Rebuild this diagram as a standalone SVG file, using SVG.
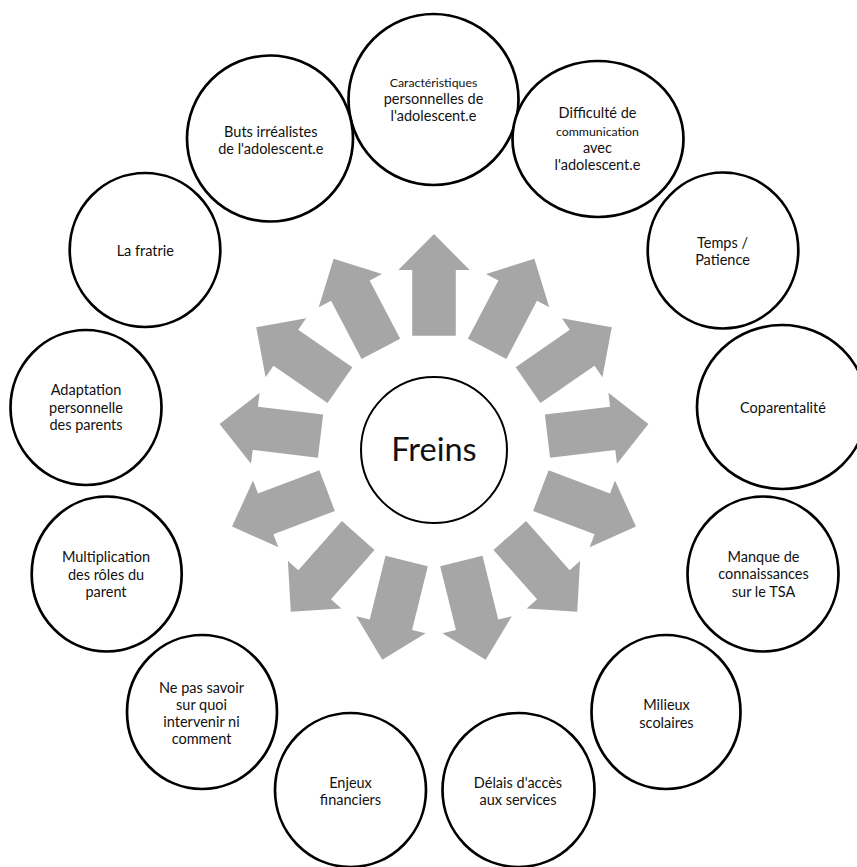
<svg xmlns="http://www.w3.org/2000/svg" xmlns:xlink="http://www.w3.org/1999/xlink" width="857" height="867" viewBox="0 0 857 867">
<style>
.node{fill:#fff;stroke:#000;stroke-width:2.7}
.center{fill:#fff;stroke:#000;stroke-width:2}
.t{font-family:Lato,"Liberation Sans",sans-serif;font-size:14.5px;fill:#111;text-anchor:middle}
.s{font-size:12.3px}
.big{font-size:32.5px}
.arrow{fill:#A6A6A6}
</style>
<defs>
<path id="arr" d="M -21.8 -114.3 L -21.8 -180 L -35.7 -180 L 0 -216 L 35.7 -180 L 21.8 -180 L 21.8 -114.3 Z"/>
</defs>
<rect width="857" height="867" fill="#fff"/>
<g id="connectors" class="arrow">
<use xlink:href="#arr" href="#arr" transform="translate(434 450) rotate(0)"/>
<use xlink:href="#arr" href="#arr" transform="translate(434 450) rotate(27.692)"/>
<use xlink:href="#arr" href="#arr" transform="translate(434 450) rotate(55.385)"/>
<use xlink:href="#arr" href="#arr" transform="translate(434 450) rotate(83.077)"/>
<use xlink:href="#arr" href="#arr" transform="translate(434 450) rotate(110.769)"/>
<use xlink:href="#arr" href="#arr" transform="translate(434 450) rotate(138.462)"/>
<use xlink:href="#arr" href="#arr" transform="translate(434 450) rotate(166.154)"/>
<use xlink:href="#arr" href="#arr" transform="translate(434 450) rotate(193.846)"/>
<use xlink:href="#arr" href="#arr" transform="translate(434 450) rotate(221.538)"/>
<use xlink:href="#arr" href="#arr" transform="translate(434 450) rotate(249.231)"/>
<use xlink:href="#arr" href="#arr" transform="translate(434 450) rotate(276.923)"/>
<use xlink:href="#arr" href="#arr" transform="translate(434 450) rotate(304.615)"/>
<use xlink:href="#arr" href="#arr" transform="translate(434 450) rotate(332.308)"/>
</g>
<g id="freins">
<circle class="center" cx="434" cy="450" r="73"/>
<text class="t big" x="434" y="461">Freins</text>
</g>
<g id="n-caracteristiques">
<ellipse class="node" cx="433.5" cy="99.5" rx="85" ry="85.5"/>
<text class="t s" x="433.5" y="87">Caractéristiques</text>
<text class="t" x="433.5" y="104">personnelles de</text>
<text class="t" x="433.5" y="121">l'adolescent.e</text>
</g>
<g id="n-difficulte">
<ellipse class="node" cx="598" cy="139" rx="85.5" ry="78"/>
<text class="t" x="597.5" y="118">Difficulté de</text>
<text class="t s" x="597.5" y="135.5">communication</text>
<text class="t" x="597.5" y="152.5">avec</text>
<text class="t" x="597.5" y="170">l'adolescent.e</text>
</g>
<g id="n-temps">
<ellipse class="node" cx="723" cy="250.5" rx="75.3" ry="78"/>
<text class="t" x="722.5" y="247.5">Temps /</text>
<text class="t" x="722.5" y="265">Patience</text>
</g>
<g id="n-coparentalite">
<ellipse class="node" cx="782" cy="407" rx="85" ry="82"/>
<text class="t" x="783" y="413">Coparentalité</text>
</g>
<g id="n-manque">
<ellipse class="node" cx="763" cy="574" rx="75.5" ry="77.5"/>
<text class="t" x="763.5" y="561.5">Manque de</text>
<text class="t" x="763.5" y="579">connaissances</text>
<text class="t" x="763.5" y="596.5">sur le TSA</text>
</g>
<g id="n-milieux">
<ellipse class="node" cx="666" cy="712" rx="74.5" ry="77"/>
<text class="t" x="666.5" y="710">Milieux</text>
<text class="t" x="666.5" y="727.5">scolaires</text>
</g>
<g id="n-delais">
<ellipse class="node" cx="518.5" cy="790" rx="76" ry="77"/>
<text class="t" x="518" y="787.5">Délais d'accès</text>
<text class="t" x="518" y="805">aux services</text>
</g>
<g id="n-enjeux">
<ellipse class="node" cx="350.5" cy="790" rx="75.5" ry="77"/>
<text class="t" x="350.5" y="787.5">Enjeux</text>
<text class="t" x="350.5" y="805">financiers</text>
</g>
<g id="n-nepas">
<ellipse class="node" cx="202" cy="712" rx="75" ry="77"/>
<text class="t" x="201.5" y="692.5">Ne pas savoir</text>
<text class="t" x="201.5" y="709.5">sur quoi</text>
<text class="t" x="201.5" y="727">intervenir ni</text>
<text class="t" x="201.5" y="744">comment</text>
</g>
<g id="n-multiplication">
<ellipse class="node" cx="106.7" cy="574" rx="75" ry="77.5"/>
<text class="t" x="106" y="562">Multiplication</text>
<text class="t" x="106" y="579.5">des rôles du</text>
<text class="t" x="106" y="597">parent</text>
</g>
<g id="n-adaptation">
<ellipse class="node" cx="86" cy="407.5" rx="75.5" ry="77.5"/>
<text class="t" x="86" y="395">Adaptation</text>
<text class="t" x="86" y="412.5">personnelle</text>
<text class="t" x="86" y="429.5">des parents</text>
</g>
<g id="n-fratrie">
<ellipse class="node" cx="145" cy="250" rx="75.3" ry="77"/>
<text class="t" x="145.3" y="256">La fratrie</text>
</g>
<g id="n-buts">
<ellipse class="node" cx="270" cy="138.5" rx="83" ry="83"/>
<text class="t" x="270.8" y="137">Buts irréalistes</text>
<text class="t" x="270.8" y="154">de l'adolescent.e</text>
</g>
</svg>
